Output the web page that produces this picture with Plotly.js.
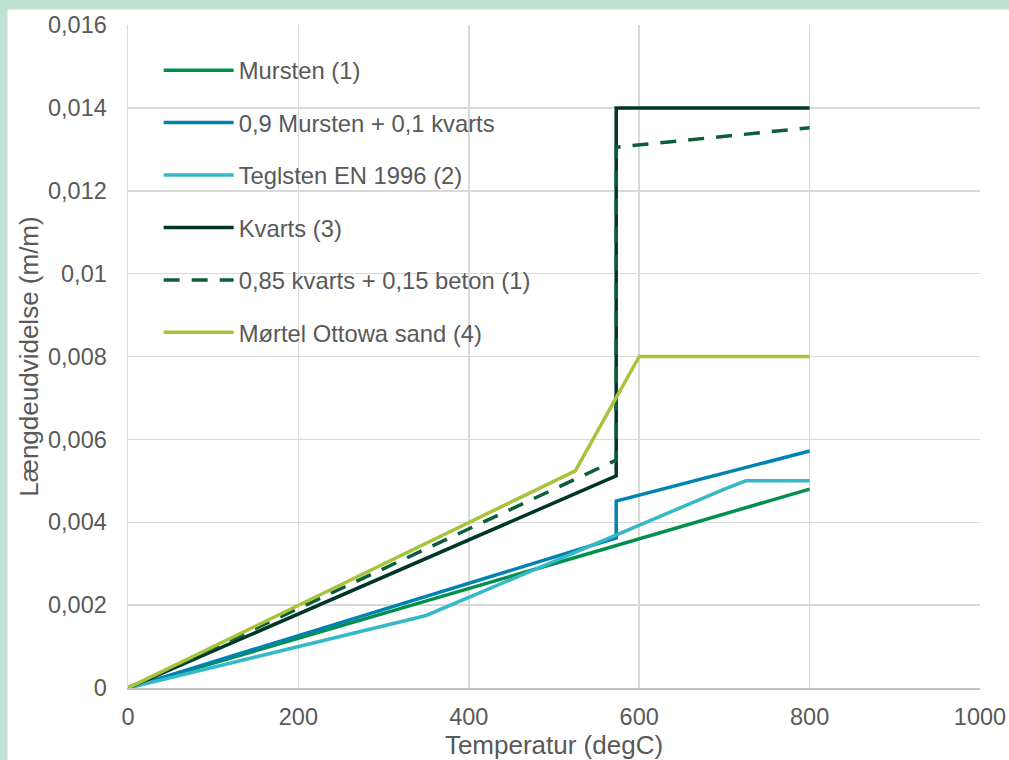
<!DOCTYPE html>
<html>
<head>
<meta charset="utf-8">
<script src="https://cdn.plot.ly/plotly-3.0.1.min.js"></script>
<style>html,body{margin:0;padding:0;background:#fff;}#chart{width:1009px;height:760px;}</style>
</head>
<body>
<div id="chart"></div>
<script>
// ---- Data ----
const seriesNames = [
  "Mursten (1)",
  "0,9 Mursten + 0,1 kvarts",
  "Teglsten EN 1996 (2)",
  "Kvarts (3)",
  "0,85 kvarts + 0,15 beton (1)",
  "Mørtel Ottowa sand (4)"
];
const murstenX = [0, 800];
const murstenY = [0, 0.0048];
const murKvartsX = [0, 573, 573, 800];
const murKvartsY = [0, 0.00362, 0.00451, 0.00572];
const teglstenX = [0, 350, 700, 725, 800];
const teglstenY = [0, 0.00175, 0.0048, 0.0050, 0.0050];
const kvartsX = [0, 573, 573, 800];
const kvartsY = [0, 0.00512, 0.0140, 0.0140];
const kvartsBetonX = [0, 573, 573, 800];
const kvartsBetonY = [0, 0.0055, 0.01305, 0.01352];
const moertelX = [0, 525, 600, 800];
const moertelY = [0, 0.00524, 0.0080, 0.0080];

const yTickVals = [0, 0.002, 0.004, 0.006, 0.008, 0.010, 0.012, 0.014, 0.016];
const yTickText = ["0", "0,002", "0,004", "0,006", "0,008", "0,01", "0,012", "0,014", "0,016"];
const xTickVals = [0, 200, 400, 600, 800, 1000];
const xTickText = ["0", "200", "400", "600", "800", "1000"];

const colors = ["#00904A", "#0083B0", "#35B9C6", "#00362A", "#0B5E38", "#A8C23C"];
const dashes = ["solid", "solid", "solid", "solid", "16px,12px", "solid"];

const xs = [murstenX, murKvartsX, teglstenX, kvartsX, kvartsBetonX, moertelX];
const ys = [murstenY, murKvartsY, teglstenY, kvartsY, kvartsBetonY, moertelY];

const traces = seriesNames.map((n, i) => ({
  x: xs[i], y: ys[i], name: n, type: "scatter", mode: "lines",
  legendgroup: "g" + i,
  line: {color: colors[i], width: 3.5, dash: dashes[i]}
}));

const fontFam = '"Liberation Sans", Arial, sans-serif';
const W = 1009, H = 760;
const mL = 128, mR = 29, mT = 25, mB = 72;
const pw = W - mL - mR, ph = H - mT - mB;

const layout = {
  width: W, height: H,
  margin: {l: mL, r: mR, t: mT, b: mB, pad: 0},
  paper_bgcolor: "#BFE3D3",
  plot_bgcolor: "#FFFFFF",
  font: {family: fontFam, color: "#595959", size: 23},
  showlegend: true,
  legend: {
    x: 0.036, y: 0.965, xanchor: "left", yanchor: "top",
    bgcolor: "rgba(0,0,0,0)", borderwidth: 0,
    font: {size: 23.8, color: "#595959"},
    traceorder: "grouped", tracegroupgap: 18.5,
    itemwidth: 70
  },
  xaxis: {
    range: [0, 1000], tickvals: xTickVals, ticktext: xTickText,
    showgrid: true, gridcolor: "#D9D9D9", gridwidth: 1.5,
    zeroline: false, showline: true, linecolor: "#BFBFBF", linewidth: 1.5,
    ticks: "", ticklen: 0, tickfont: {size: 23.5, color: "#595959"},
    ticklabelstandoff: 7,
    title: {text: "Temperatur (degC)", font: {size: 26, color: "#595959"}, standoff: 4}
  },
  yaxis: {
    range: [0, 0.016], tickvals: yTickVals, ticktext: yTickText,
    showgrid: true, gridcolor: "#D9D9D9", gridwidth: 1.5,
    zeroline: false, showline: true, linecolor: "#D9D9D9", linewidth: 1.5,
    ticks: "", tickfont: {size: 23.5, color: "#595959"},
    ticklabelstandoff: 15,
    title: {text: "Længdeudvidelse (m/m)", font: {size: 26, color: "#595959"}, standoff: 2}
  },
  shapes: [{
    type: "rect", xref: "paper", yref: "paper", layer: "below",
    x0: (7 - mL) / pw, x1: (W + 5 - mL) / pw,
    y0: -(mB + 5) / ph, y1: (H - mB - 9) / ph,
    fillcolor: "#FFFFFF", line: {color: "#D6D6D6", width: 1}
  }]
};

Plotly.newPlot("chart", traces, layout, {displayModeBar: false, staticPlot: true});
</script>
</body>
</html>
